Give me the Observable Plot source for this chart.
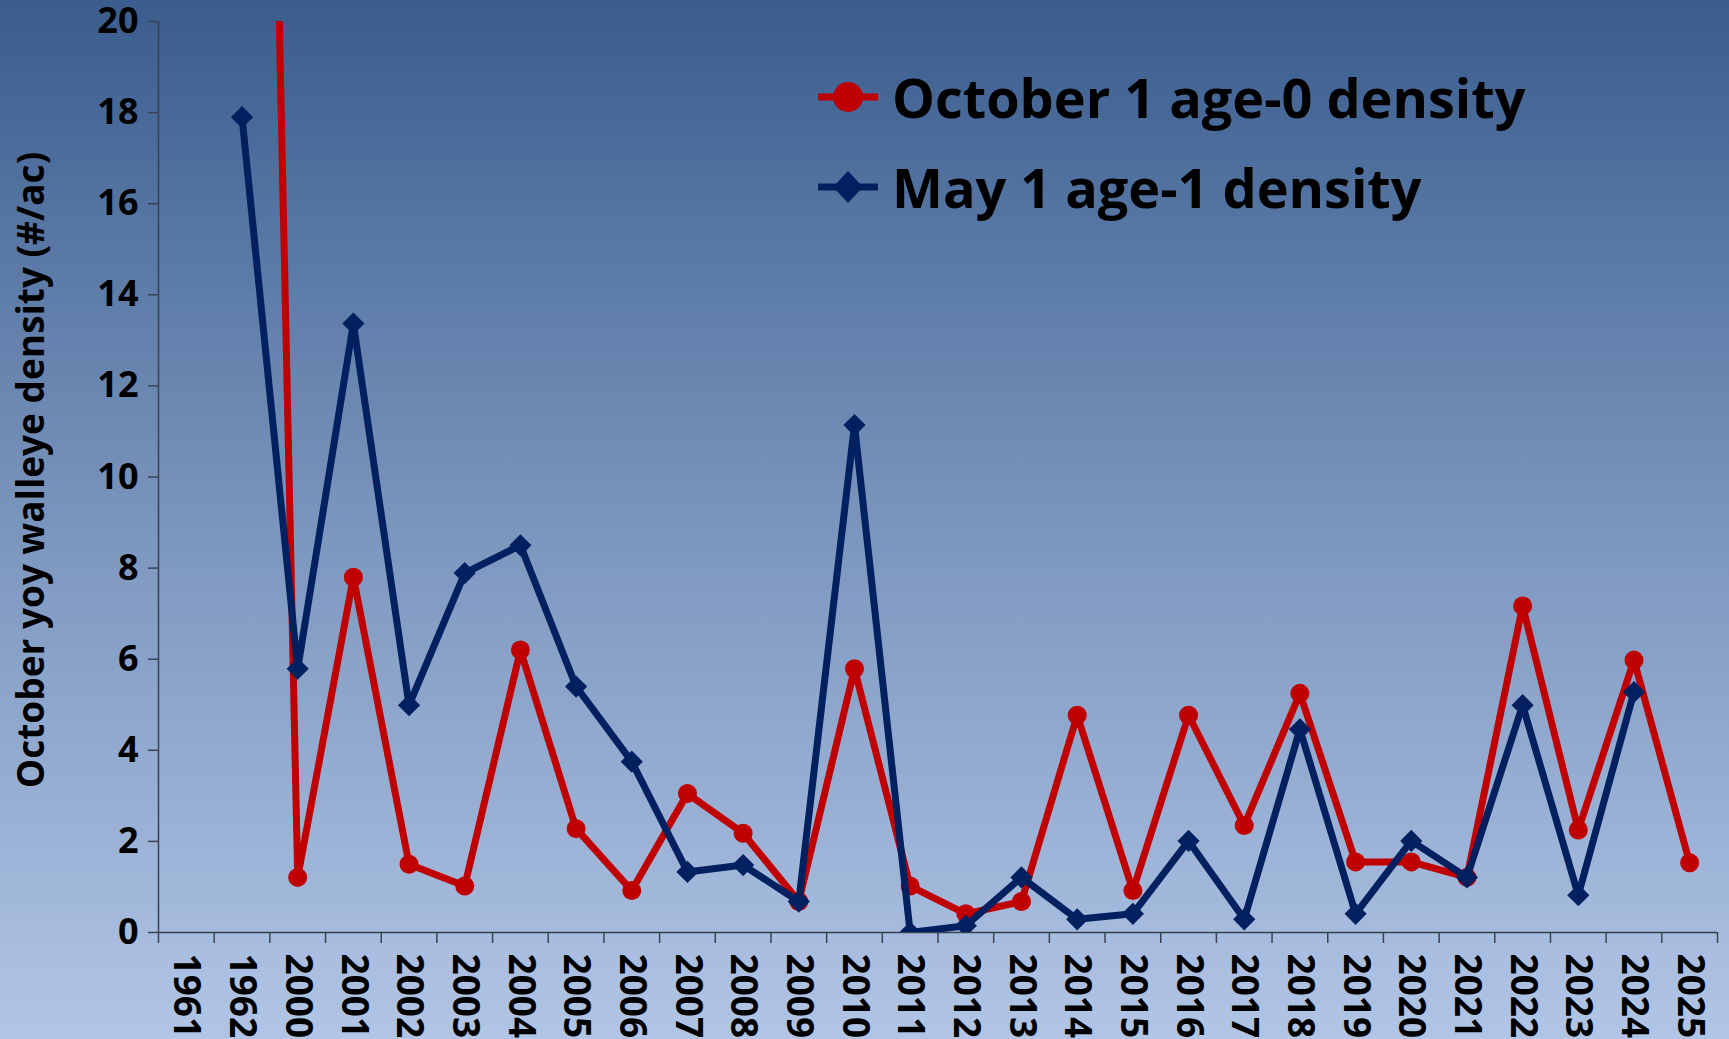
<!DOCTYPE html>
<html><head><meta charset="utf-8">
<script src="https://cdn.jsdelivr.net/npm/d3@7"></script>
<script src="https://cdn.jsdelivr.net/npm/@observablehq/plot@0.6"></script>
<style>
html,body{margin:0;padding:0;}
body{width:1729px;height:1039px;overflow:hidden;position:relative;background:linear-gradient(to bottom,#3a5d8e 0%,#7a95bd 50%,#b1c5e6 100%);font-family:"Open Sans",sans-serif;}
#legend{position:absolute;left:818px;top:52px;}
#legend .row{display:flex;align-items:center;height:90px;}
#legend .row span{font-size:54px;font-weight:700;color:#000;margin-left:14px;}
</style></head><body><div id="chart"></div><div id="legend"></div>
<script>
const years = ["1961","1962","2000","2001","2002","2003","2004","2005","2006","2007","2008","2009","2010","2011","2012","2013","2014","2015","2016","2017","2018","2019","2020","2021","2022","2023","2024","2025"];
const october = [null,58,1.21,7.8,1.5,1.02,6.2,2.28,0.92,3.05,2.18,0.68,5.79,1.02,0.41,0.68,4.77,0.92,4.77,2.35,5.25,1.55,1.55,1.21,7.17,2.25,5.98,1.53];
const may = [null,17.9,5.79,13.37,4.99,7.89,8.5,5.4,3.75,1.33,1.48,0.68,11.14,0,0.15,1.21,0.29,0.41,2.01,0.29,4.46,0.41,2.01,1.21,4.99,0.82,5.28,null];
const seriesNames = ["October 1 age-0 density","May 1 age-1 density"];
const colors = ["#c00000","#002060"];
const yTicks = [0,2,4,6,8,10,12,14,16,18,20];
const yLabel = "October yoy walleye density (#/ac)";

const W=1729,H=1039,mL=158,mR=12,mT=21,mB=107;
const bw=(W-mL-mR)/years.length;
const rowsOct = years.map((y,i)=>({year:y,value:october[i]})).filter(d=>d.value!=null);
const rowsMay = years.map((y,i)=>({year:y,value:may[i]})).filter(d=>d.value!=null);
const axisColor="#3a4252";

const plot = Plot.plot({
  width:W,height:H,marginLeft:mL,marginRight:mR,marginTop:mT,marginBottom:mB,
  style:{background:"transparent",fontFamily:"Open Sans",fontWeight:700,color:"#000",overflow:"visible"},
  x:{type:"band",domain:years,padding:0,round:false},
  y:{domain:[0,20]},
  marks:[
    Plot.axisY({ticks:yTicks,tickSize:10,tickPadding:10,fontSize:36,fontWeight:700,label:null,stroke:axisColor,strokeWidth:1.5}),
    Plot.axisX({tickSize:0,tickPadding:21,tickRotate:90,fontSize:37,fontWeight:700,label:null}),
    Plot.ruleY([0],{stroke:axisColor,strokeWidth:1.5}),
    Plot.ruleX([years[0]],{dx:-bw/2,y1:0,y2:20,stroke:axisColor,strokeWidth:1.5}),
    Plot.ruleX(years,{dx:-bw/2,y1:0,y2:0,insetBottom:-11,stroke:axisColor,strokeWidth:1.5}),
    Plot.ruleX([years[years.length-1]],{dx:bw/2,y1:0,y2:0,insetBottom:-11,stroke:axisColor,strokeWidth:1.5}),
    Plot.text([yLabel],{text:d=>d,frameAnchor:"left",textAnchor:"middle",lineAnchor:"middle",rotate:-90,dx:-126,dy:-7,fontSize:37,fontWeight:700,fill:"#000"}),
    Plot.line(rowsOct,{x:"year",y:"value",stroke:colors[0],strokeWidth:7,strokeLinejoin:"round",clip:true}),
    Plot.dot(rowsOct,{x:"year",y:"value",r:9.5,fill:colors[0],stroke:"none",clip:true}),
    Plot.line(rowsMay,{x:"year",y:"value",stroke:colors[1],strokeWidth:7,strokeLinejoin:"round",clip:true}),
    Plot.dot(rowsMay,{x:"year",y:"value",symbol:"diamond2",r:10,fill:colors[1],stroke:"none",clip:true})
  ]
});
document.getElementById("chart").appendChild(plot);

const legend=document.getElementById("legend");
seriesNames.forEach((name,i)=>{
  const row=document.createElement("div");row.className="row";
  const marker = i===0
    ? `<circle cx="30" cy="20" r="15" fill="${colors[i]}"/>`
    : `<path d="M30 4 L45 20 L30 36 L15 20 Z" fill="${colors[i]}"/>`;
  row.innerHTML=`<svg width="60" height="40"><line x1="0" y1="20" x2="60" y2="20" stroke="${colors[i]}" stroke-width="7"/>${marker}</svg><span>${name}</span>`;
  legend.appendChild(row);
});
</script></body></html>
